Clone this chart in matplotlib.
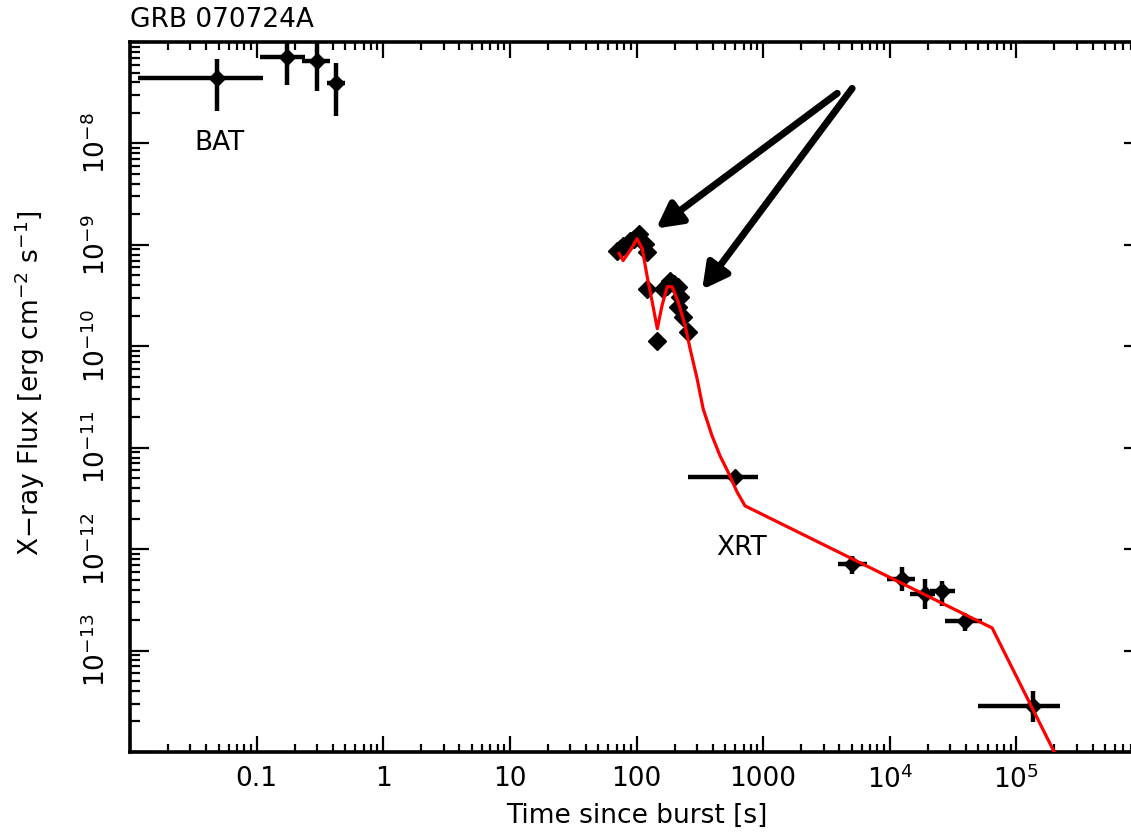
import numpy as np
import matplotlib
matplotlib.use("Agg")
import matplotlib.pyplot as plt
from matplotlib.ticker import LogLocator, FuncFormatter, NullFormatter

# BAT points: time, flux and asymmetric errors
bat_t = [0.0487, 0.174, 0.300, 0.424]
bat_t_lo = [0.01156, 0.106, 0.229, 0.360]
bat_t_hi = [0.112, 0.241, 0.380, 0.499]
bat_f = [4.38e-8, 7.06e-8, 6.44e-8, 3.91e-8]
bat_f_lo = [2.07e-8, 3.74e-8, 3.26e-8, 1.85e-8]
bat_f_hi = [6.75e-8, 1.15e-7, 1.15e-7, 6.17e-8]

# XRT early flaring data (windowed timing)
xrt_early_t = [70.3, 74.1, 78.3, 89.0, 95.7, 105, 117, 121, 121, 146,
               162, 175, 184, 198, 213, 213, 221, 233, 256]
xrt_early_f = [8.79e-10, 9.2e-10, 9.85e-10, 1.08e-9, 1.15e-9, 1.29e-9, 1.03e-9,
               8.59e-10, 3.70e-10, 1.14e-10, 3.70e-10, 3.97e-10, 4.45e-10,
               4.15e-10, 3.87e-10, 2.46e-10, 3.09e-10, 1.96e-10, 1.39e-10]

# XRT late data with errors
xrt_t = [601, 5050, 12540, 19050, 25900, 39400, 135800]
xrt_t_lo = [256, 3910, 9530, 14500, 20800, 27400, 49900]
xrt_t_hi = [914, 6640, 15900, 22900, 32900, 53700, 222000]
xrt_f = [5.16e-12, 7.14e-13, 5.08e-13, 3.61e-13, 3.86e-13, 1.95e-13, 2.83e-14]
xrt_f_lo = [4.8e-12, 5.69e-13, 3.86e-13, 2.57e-13, 2.75e-13, 1.56e-13, 1.96e-14]
xrt_f_hi = [5.5e-12, 8.57e-13, 6.67e-13, 5.08e-13, 4.85e-13, 2.29e-13, 3.98e-14]

# model curve (flares + broken power law)
model_t = [72.9, 78.3, 89.0, 101, 111, 121, 133, 146, 159, 175, 191, 213, 242,
           265, 301, 336, 395, 457, 528, 622, 720, 64400, 199000]
model_f = [8.2e-10, 7.0e-10, 8.79e-10, 1.15e-9, 9.19e-10, 4.98e-10, 2.75e-10,
           1.49e-10, 2.52e-10, 3.87e-10, 3.87e-10, 2.75e-10, 1.60e-10, 9.46e-11,
           4.79e-11, 2.42e-11, 1.31e-11, 8.31e-12, 5.78e-12, 3.67e-12, 2.67e-12,
           1.67e-13, 1.0e-14]

# arrows pointing at the two flares: (tail, head)
arrows = [((3850, 3.12e-8), (143, 1.45e-9)),
          ((5050, 3.49e-8), (330, 3.62e-10))]

FS = 19
plt.rcParams['font.family'] = 'DejaVu Sans'
plt.rcParams['mathtext.fontset'] = 'dejavusans'

fig = plt.figure(figsize=(11.31, 8.33), dpi=100)
ax = fig.add_axes([130 / 1131, 81 / 833, 1013 / 1131, 710 / 833])
ax.set_xscale('log')
ax.set_yscale('log')
ax.set_xlim(0.01, 1e6)
ax.set_ylim(1e-14, 1e-7)

def errs(v, lo, hi):
    v = np.array(v)
    return [v - np.array(lo), np.array(hi) - v]

ax.errorbar(bat_t, bat_f, xerr=errs(bat_t, bat_t_lo, bat_t_hi),
            yerr=errs(bat_f, bat_f_lo, bat_f_hi), fmt='D', color='black',
            ms=8, elinewidth=3.2, capsize=0)
ax.errorbar(xrt_t, xrt_f, xerr=errs(xrt_t, xrt_t_lo, xrt_t_hi),
            yerr=errs(xrt_f, xrt_f_lo, xrt_f_hi), fmt='D', color='black',
            ms=8, elinewidth=3.2, capsize=0)
ax.plot(xrt_early_t, xrt_early_f, 'D', color='black', ms=9)
ax.plot(model_t, model_f, color='#ff0000', lw=2.3, zorder=5)

for tail, head in arrows:
    ax.annotate('', xy=head, xytext=tail,
                arrowprops=dict(arrowstyle='-|>,head_length=0.75,head_width=0.4',
                                color='black', lw=5, mutation_scale=20,
                                shrinkA=0, shrinkB=0))

ax.text(0.0505, 1.02e-8, 'BAT', fontsize=FS, ha='center', va='center')
ax.text(670, 1.03e-12, 'XRT', fontsize=FS, ha='center', va='center')

# axis ticks: inward on every side, major at every decade
ax.xaxis.set_major_locator(LogLocator(base=10, numticks=20))
ax.xaxis.set_minor_locator(LogLocator(base=10, subs=np.arange(2, 10), numticks=20))
ax.yaxis.set_major_locator(LogLocator(base=10, numticks=20))
ax.yaxis.set_minor_locator(LogLocator(base=10, subs=np.arange(2, 10), numticks=20))
ax.xaxis.set_minor_formatter(NullFormatter())
ax.yaxis.set_minor_formatter(NullFormatter())

def xfmt(v, pos):
    e = int(round(np.log10(v)))
    if e < -1 or e > 5:
        return ''
    if e <= 3:
        return '%g' % v
    return r'$10^{%d}$' % e

def yfmt(v, pos):
    e = int(round(np.log10(v)))
    if e < -13 or e > -8:
        return ''
    return r'$10^{%d}$' % e

ax.xaxis.set_major_formatter(FuncFormatter(xfmt))
ax.yaxis.set_major_formatter(FuncFormatter(yfmt))

ax.tick_params(which='both', direction='in', top=True, right=True, width=1.6,
               labelsize=FS)
ax.tick_params(axis='x', which='major', length=11.5, pad=10)
ax.tick_params(axis='x', which='minor', length=6)
ax.tick_params(axis='y', which='major', length=14, pad=14, labelrotation=90)
ax.tick_params(axis='y', which='minor', length=7)
for lab in ax.get_yticklabels():
    lab.set_va('center')

for sp in ax.spines.values():
    sp.set_linewidth(2.6)

ax.set_xlabel('Time since burst [s]', fontsize=FS, labelpad=6)
ax.set_ylabel(r'X$-$ray Flux [erg cm$^{-2}$ s$^{-1}$]', fontsize=FS)
ax.yaxis.set_label_coords(-0.082, 0.52)

fig.text(130 / 1131, 1 - 20 / 833, 'GRB 070724A', fontsize=FS,
         ha='left', va='center')

fig.savefig('out.png', dpi=100)
